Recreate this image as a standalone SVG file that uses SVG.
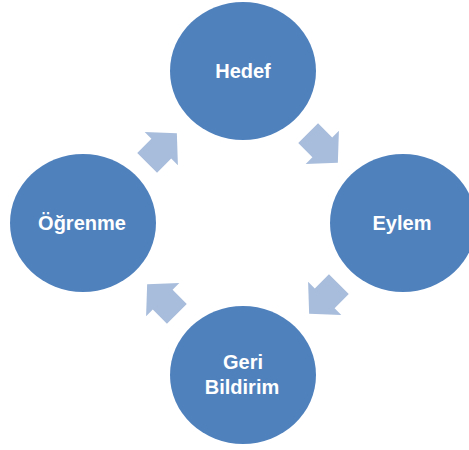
<svg xmlns="http://www.w3.org/2000/svg" width="469" height="450" viewBox="0 0 469 450">
  <defs>
    <style>
      .node { fill: #4F81BD; }
      .lbl { fill: #FFFFFF; font-family: "Liberation Sans", Arial, sans-serif; font-size: 20px; font-weight: bold; text-anchor: middle; }
      .arr { fill: #A8BDDC; }
    </style>
    <path id="arrowShape" d="M-21,-14 L-1,-14 L-1,-23.5 L21,0 L-1,23.5 L-1,14 L-21,14 Z"/>
  </defs>
  <rect width="469" height="450" fill="#FFFFFF"/>
  <g id="connectors">
    <use href="#arrowShape" class="arr" transform="translate(162,148) rotate(-45)"/>
    <use href="#arrowShape" class="arr" transform="translate(323,148) rotate(45)"/>
    <use href="#arrowShape" class="arr" transform="translate(324,299) rotate(135)"/>
    <use href="#arrowShape" class="arr" transform="translate(162,299) rotate(-135)"/>
  </g>
  <g id="hedef">
    <ellipse class="node" cx="243" cy="71" rx="73" ry="69"/>
    <text class="lbl" x="243" y="78">Hedef</text>
  </g>
  <g id="eylem">
    <ellipse class="node" cx="403" cy="223" rx="73" ry="69"/>
    <text class="lbl" x="402" y="230">Eylem</text>
  </g>
  <g id="geri-bildirim">
    <ellipse class="node" cx="243" cy="375" rx="73" ry="69"/>
    <text class="lbl" x="243" y="369">Geri</text>
    <text class="lbl" x="242" y="394">Bildirim</text>
  </g>
  <g id="ogrenme">
    <ellipse class="node" cx="83" cy="223" rx="73" ry="69"/>
    <text class="lbl" x="82" y="230">Öğrenme</text>
  </g>
</svg>
